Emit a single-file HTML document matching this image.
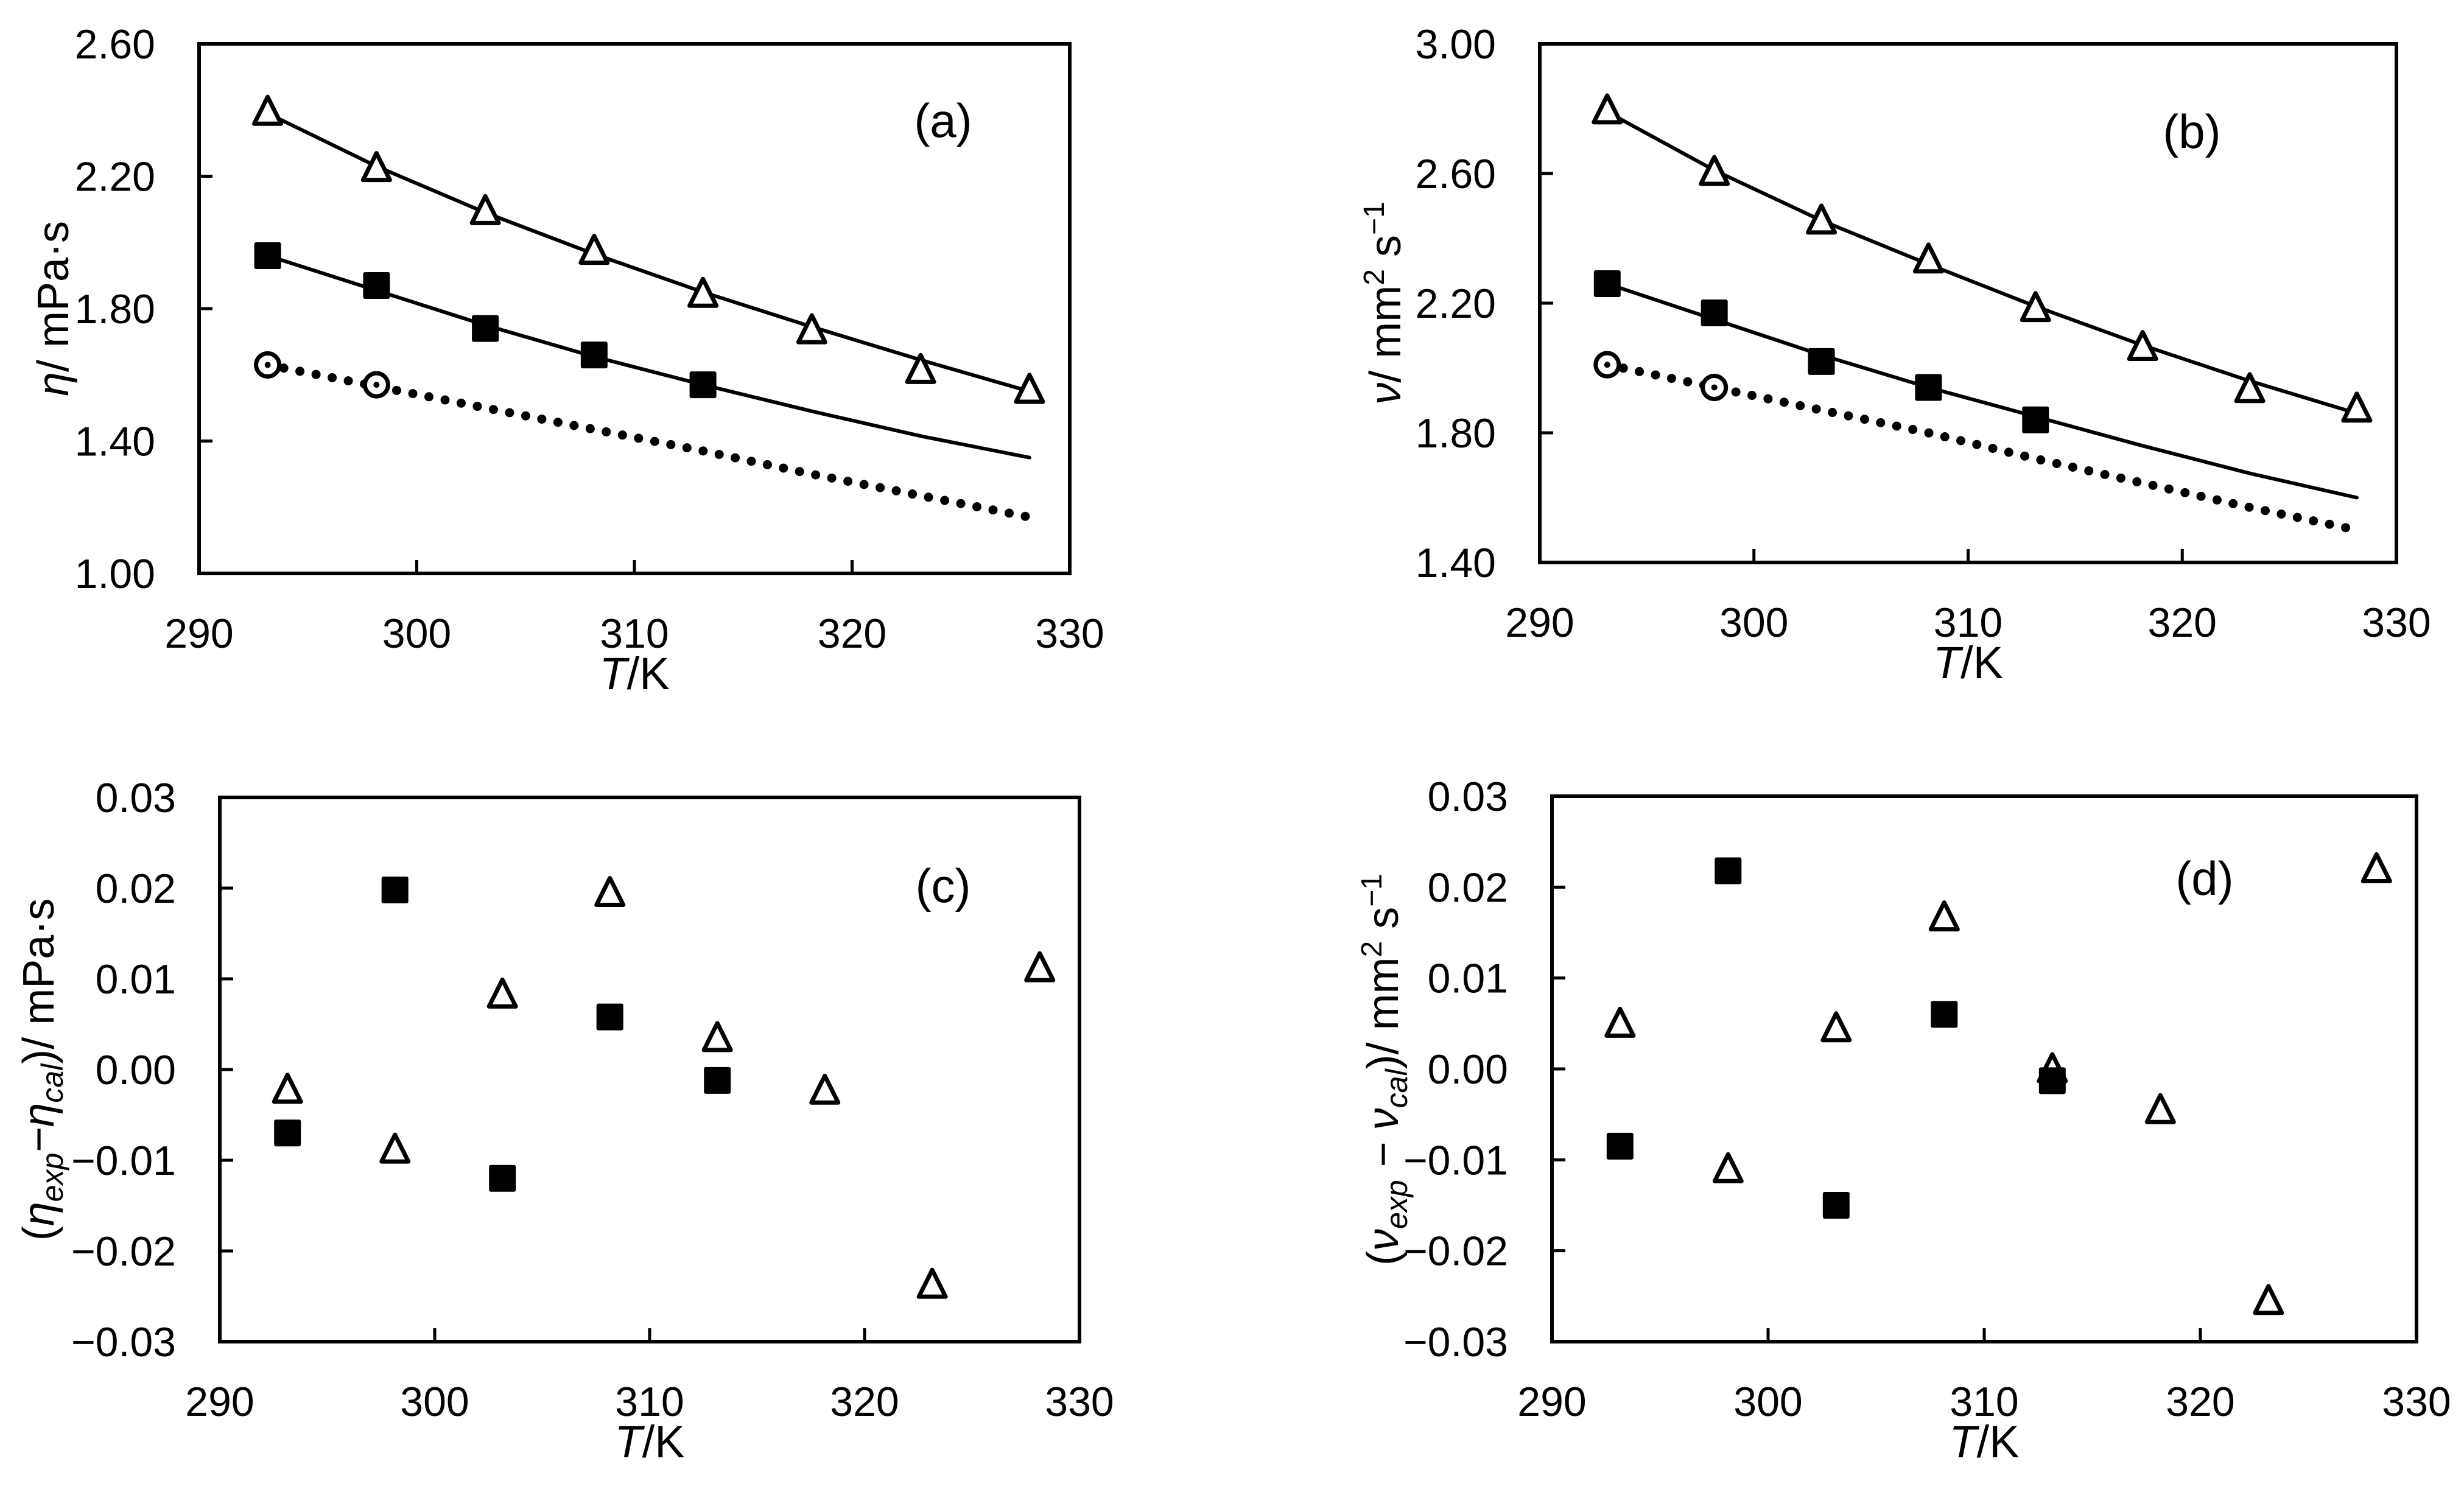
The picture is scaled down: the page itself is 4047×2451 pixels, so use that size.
<!DOCTYPE html>
<html><head><meta charset="utf-8"><style>
body{margin:0;background:#fff}
svg{display:block;font-family:"Liberation Sans",sans-serif}
</style></head><body>
<svg id="c" width="4047" height="2451" viewBox="0 0 4047 2451"></svg>
<script>
const T = [293.15,298.15,303.15,308.15,313.15,318.15,323.15,328.15];
const Tsq = [293.15,298.15,303.15,308.15,313.15];
const Tci = [293.15,298.15];
const xTicks = [290,300,310,320,330];
// panel a
const aTri = [2.39,2.22,2.09,1.97,1.84,1.73,1.61,1.55];
const aTriFit = [2.39,2.23,2.09,1.965,1.85,1.745,1.645,1.55];
const aSq = [1.96,1.87,1.74,1.66,1.57];
const aSqFit = [1.96,1.855,1.75,1.655,1.57,1.49,1.415,1.35];
const aCi = [1.63,1.57];
const aDot = [1.63,1.565,1.50,1.435,1.37,1.30,1.235,1.17];
const aYTicks = ["1.00","1.40","1.80","2.20","2.60"];
// panel b
const bTri = [2.79,2.60,2.45,2.33,2.18,2.06,1.93,1.87];
const bTriFit = [2.79,2.61,2.455,2.32,2.19,2.07,1.96,1.86];
const bSq = [2.26,2.17,2.02,1.94,1.84];
const bSqFit = [2.26,2.15,2.04,1.94,1.85,1.76,1.675,1.60];
const bCi = [2.01,1.94];
const bDot = [2.01,1.94,1.87,1.80,1.72,1.645,1.57,1.50];
const bYTicks = ["1.40","1.80","2.20","2.60","3.00"];
// panel c
const cTri = [-0.0022,-0.0088,0.0083,0.0195,0.0035,-0.0023,-0.0237,0.0112];
const cSq = [-0.007,0.0198,-0.012,0.0058,-0.0012];
// panel d
const dTri = [0.005,-0.011,0.0045,0.0167,0.0,-0.0045,-0.0255,0.022];
const dSq = [-0.0085,0.0218,-0.015,0.006,-0.0013];
const devTicks = ["\u22120.03","\u22120.02","\u22120.01","0.00","0.01","0.02","0.03"];

const svg=document.getElementById('c');
const NS='http://www.w3.org/2000/svg';
function mk(tag,attrs,parent){const e=document.createElementNS(NS,tag);for(const k in attrs)e.setAttribute(k,attrs[k]);(parent||svg).appendChild(e);return e;}

function panel(id,L,R,Tp,B,ymin,ymax,yTicks){
  const g=mk('g',{});
  
  
  const sx=v=>L+(v-290)/40*(R-L);
  const sy=v=>B-(v-ymin)/(ymax-ymin)*(B-Tp);
  const frame=mk('rect',{x:L,y:Tp,width:R-L,height:B-Tp,fill:'none',stroke:'#000','stroke-width':6},g);
  
  
  xTicks.forEach((t,i)=>{
    const x=sx(t);
    if(i>0&&i<xTicks.length-1){const tk=mk('line',{x1:x,x2:x,y1:B,y2:B-22,stroke:'#000','stroke-width':5},g);
      
      }
    const tx=mk('text',{x:x,y:B+122,'font-size':68,'text-anchor':'middle'},g);tx.textContent=t;
    
    
  });
  yTicks.forEach((s,i)=>{
    const v=ymin+i*(ymax-ymin)/(yTicks.length-1);const y=sy(v);
    if(i>0&&i<yTicks.length-1){const tk=mk('line',{x1:L,x2:L+22,y1:y,y2:y,stroke:'#000','stroke-width':5},g);
      
      }
    const tx=mk('text',{x:L-72,y:y+24,'font-size':68,'text-anchor':'end'},g);tx.textContent=s;
    
    
  });
  const xt=mk('text',{x:(L+R)/2,y:B+190,'font-size':74,'text-anchor':'middle'},g);
  xt.innerHTML='<tspan font-style="italic">T</tspan>/K';
  
  
  return {g,sx,sy};
}
function line(p,xs,ys,dotted,name){
  const d=xs.map((x,i)=>(i?'L':'M')+p.sx(x)+' '+p.sy(ys[i])).join(' ');
  const a={d:d,fill:'none',stroke:'#000','stroke-width':dotted?15:6,'stroke-linecap':'round'};
  if(dotted)a['stroke-dasharray']='0 27';
  const e=mk('path',a,p.g);
  
  
}
function tri(p,xs,ys,name,off){
  xs.forEach((x,i)=>{const cx=p.sx(x),cy=p.sy(ys[i])+(off||0);
    const e=mk('path',{d:`M${cx} ${cy-24} L${cx+22} ${cy+20} L${cx-22} ${cy+20} Z`,fill:'#fff',stroke:'#000','stroke-width':7,'stroke-linejoin':'round'},p.g);
    
    });
}
function sq(p,xs,ys,name){
  xs.forEach((x,i)=>{const cx=p.sx(x),cy=p.sy(ys[i]);
    const e=mk('rect',{x:cx-22,y:cy-22,width:44,height:44,rx:3,fill:'#000'},p.g);
    
    });
}
function circ(p,xs,ys,name){
  xs.forEach((x,i)=>{const cx=p.sx(x),cy=p.sy(ys[i]);
    const e=mk('circle',{cx:cx,cy:cy,r:19,fill:'#fff',stroke:'#000','stroke-width':7},p.g);
    
    
    mk('circle',{cx:cx,cy:cy,r:5,fill:'#000'},p.g);});
}
function label(p,x,y,txt,name,size){
  const t=mk('text',{x:x,y:y,'font-size':size||78,'text-anchor':'middle'},p.g);t.textContent=txt;
  
  
}
function ytitle(p,x,y,html,name){
  const t=mk('text',{x:0,y:0,'font-size':72,'text-anchor':'middle',transform:`translate(${x} ${y}) rotate(-90)`},p.g);
  t.innerHTML=html;
  
  
}

// (a)
const pa=panel('a',327,1757,72,942,1.0,2.6,aYTicks);
line(pa,T,aTriFit,false,'fit-line-triangle');
line(pa,T,aSqFit,false,'fit-line-square');
line(pa,T,aDot,true,'dotted-line');
tri(pa,T,aTri,'triangle-point',-3);
sq(pa,Tsq,aSq,'square-point');
circ(pa,Tci,aCi,'circle-point');
label(pa,1549,225,'(a)','panel-label-a');
ytitle(pa,112,507,'<tspan font-style="italic">η</tspan>/ mPa·s','y-axis-title');

// (b)
const pb=panel('b',2529,3936,72,924,1.4,3.0,bYTicks);
line(pb,T,bTriFit,false,'fit-line-triangle');
line(pb,T,bSqFit,false,'fit-line-square');
line(pb,T,bDot,true,'dotted-line');
tri(pb,T,bTri,'triangle-point',-3);
sq(pb,Tsq,bSq,'square-point');
circ(pb,Tci,bCi,'circle-point');
label(pb,3600,243,'(b)','panel-label-b');
ytitle(pb,2300,498,'<tspan font-style="italic">ν</tspan>/ mm<tspan dy="-27" font-size="48">2</tspan><tspan dy="27"> s</tspan><tspan dy="-27" font-size="48">−1</tspan>','y-axis-title');

// (c)
const pc=panel('c',361,1773,1310,2204,-0.03,0.03,devTicks);
tri(pc,T,cTri,'triangle-point',0);
sq(pc,Tsq,cSq,'square-point');
label(pc,1549,1482,'(c)','panel-label-c');
ytitle(pc,88,1757,'(<tspan font-style="italic">η<tspan font-size="50" dy="15">exp</tspan><tspan dy="-15">−</tspan>η<tspan font-size="50" dy="15">cal</tspan></tspan><tspan dy="-15">)/ mPa·s</tspan>','y-axis-title');

// (d)
const pd=panel('d',2549,3969,1308,2204,-0.03,0.03,devTicks);
tri(pd,T,dTri,'triangle-point',0);
sq(pd,Tsq,dSq,'square-point');
label(pd,3621,1470,'(d)','panel-label-d');
ytitle(pd,2296,1757,'(<tspan font-style="italic">ν<tspan font-size="50" dy="15">exp</tspan><tspan dy="-15"> − </tspan>ν<tspan font-size="50" dy="15">cal</tspan></tspan><tspan dy="-15">)/ mm</tspan><tspan dy="-27" font-size="48">2</tspan><tspan dy="27"> s</tspan><tspan dy="-27" font-size="48">−1</tspan>','y-axis-title');
</script>
</body></html>
